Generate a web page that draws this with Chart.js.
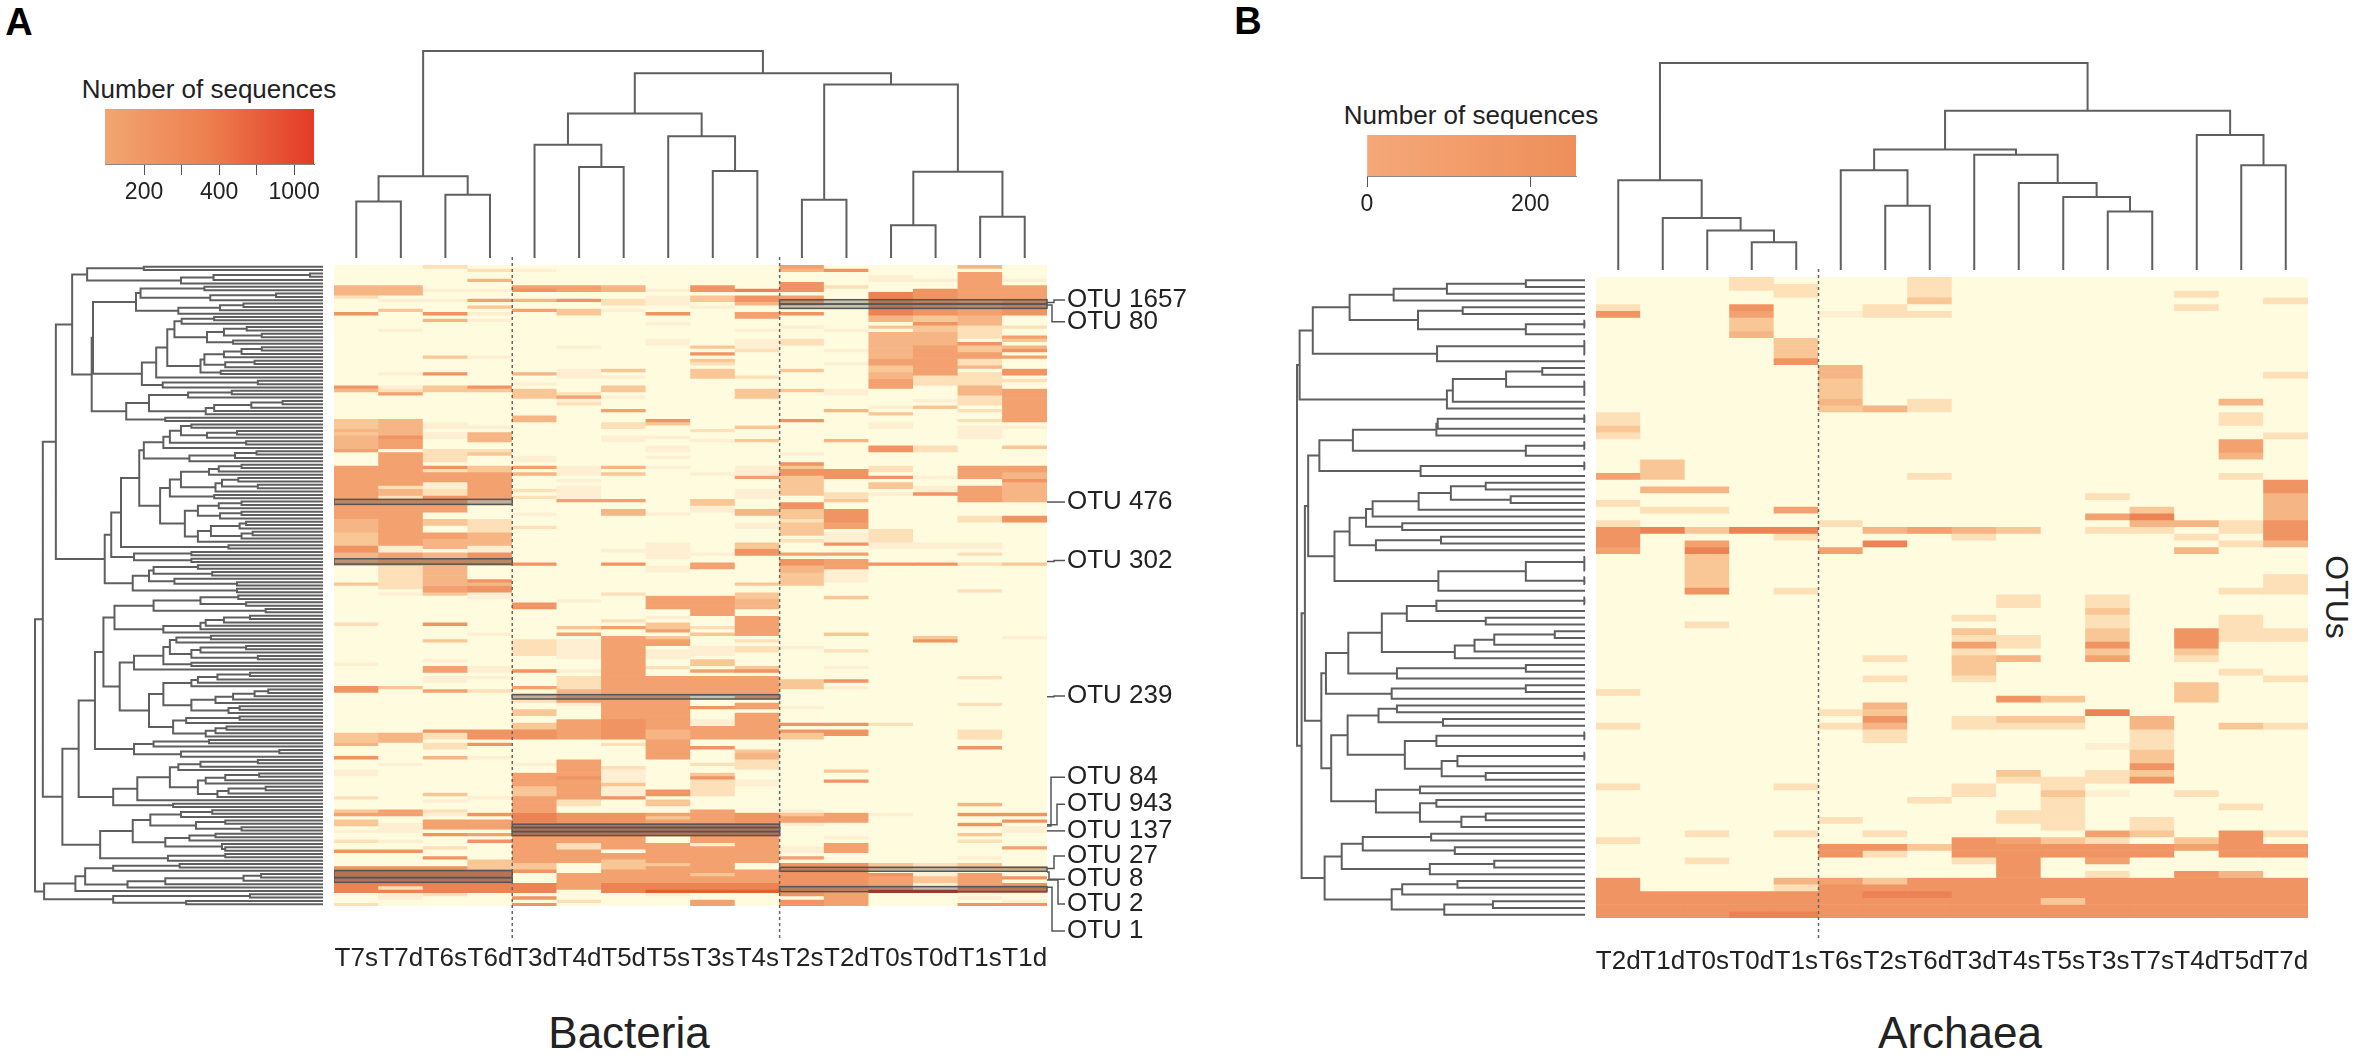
<!DOCTYPE html>
<html>
<head>
<meta charset="utf-8">
<title>Bacteria and Archaea heatmaps</title>
<script src="https://cdn.jsdelivr.net/npm/chart.js@4"></script>
<style>
  html, body { margin: 0; padding: 0; background: #fff; }
  #page { position: relative; width: 2362px; height: 1058px; overflow: hidden; font-family: "Liberation Sans", Arial, sans-serif; color: #222; }
  #page canvas { position: absolute; }
  .txt { position: absolute; white-space: nowrap; transform: translate(-50%, -50%); line-height: 1; }
  .panel { font-weight: bold; font-size: 38px; color: #000; }
  .name { font-size: 44px; }
  .key { font-size: 26px; }
</style>
</head>
<body>
<div id="page">
  <div class="txt panel" style="left:19px;top:22px">A</div>
  <div class="txt panel" style="left:1248px;top:21px">B</div>
  <div class="txt key" style="left:209px;top:89px">Number of sequences</div>
  <div class="txt key" style="left:1471px;top:115px">Number of sequences</div>
  <div class="txt name" style="left:629px;top:1033px">Bacteria</div>
  <div class="txt name" style="left:1960px;top:1033px">Archaea</div>
  <div class="txt" style="left:2337px;top:597px;font-size:32px;transform:translate(-50%,-50%) rotate(90deg)">OTUs</div>
</div>
<script>
// colour classes, 0 = no sequences
var levelColors = ["#FFFBDF", "#FEEFD3", "#FDDFB8", "#F9C796", "#F6B584", "#F2A16F", "#EF9462", "#EC8354", "#E25F33", "#C4281C"];

// ---- Bacteria ----
var bacSamples = ["T7s","T7d","T6s","T6d","T3d","T4d","T5d","T5s","T3s","T4s","T2s","T2d","T0s","T0d","T1s","T1d"];
var bacRowCount = 192;

// one list per sample: [first row, last row, colour class], later runs win
var bacT7s = [[6,8,4],[9,9,2],[14,14,6],[36,36,6],[37,37,4],[46,48,3],[49,54,4],[50,50,3],[55,55,5],[60,69,5],[70,71,5],[72,79,5],[76,79,4],[80,83,3],[84,85,6],[86,88,4],[89,89,5],[95,95,3],[107,107,2],[119,119,1],[126,127,6],[140,142,3],[143,143,4],[147,147,6],[151,152,1],[159,159,2],[163,163,3],[164,164,5],[166,167,3],[169,169,1],[172,172,2],[175,175,6],[180,180,6],[181,184,7],[185,187,7],[191,191,2]];
var bacT7d = [[6,8,4],[10,10,1],[13,13,3],[19,19,1],[32,32,1],[36,36,1],[37,37,2],[38,38,5],[46,49,4],[50,50,4],[51,51,6],[52,54,5],[56,65,5],[66,66,2],[67,68,4],[69,70,2],[70,71,5],[72,84,5],[84,86,1],[86,88,5],[89,89,5],[90,96,2],[98,98,1],[126,126,3],[140,142,4],[149,149,1],[163,164,5],[167,169,1],[172,172,1],[175,175,6],[180,180,6],[181,185,7],[186,186,2],[187,187,7],[188,189,1]];
var bacT6s = [[0,0,2],[7,7,1],[10,10,1],[14,14,6],[16,16,4],[27,27,3],[32,32,6],[36,37,3],[47,48,1],[50,51,1],[55,58,2],[60,60,6],[61,61,2],[62,64,5],[65,66,1],[67,68,2],[69,70,6],[70,73,5],[76,77,3],[80,81,5],[82,84,4],[86,87,4],[88,89,5],[90,97,4],[96,97,5],[98,98,3],[107,107,6],[112,112,3],[118,118,1],[120,121,5],[123,124,1],[127,127,5],[139,139,6],[140,141,2],[143,144,2],[147,147,4],[158,158,3],[160,160,1],[163,163,2],[164,164,1],[166,168,5],[170,170,6],[174,174,2],[177,177,6],[180,180,6],[181,184,7],[185,187,7],[188,188,2]];
var bacT6d = [[1,1,2],[4,4,4],[7,7,1],[10,10,5],[12,12,3],[14,14,1],[16,16,1],[27,27,1],[36,36,6],[37,37,3],[48,48,1],[50,52,4],[55,56,2],[56,56,3],[60,61,3],[62,69,5],[70,71,2],[76,79,2],[80,83,4],[84,86,1],[86,87,6],[88,89,5],[94,96,6],[95,95,4],[96,97,6],[98,99,1],[110,110,1],[120,121,1],[123,123,1],[127,127,2],[139,141,6],[143,143,6],[147,147,1],[159,159,1],[164,164,6],[166,168,5],[170,170,5],[172,172,6],[178,180,3],[181,184,7],[185,187,7]];
var bacT3d = [[1,1,1],[6,6,5],[7,7,6],[10,10,4],[13,13,5],[32,32,4],[35,35,1],[37,39,3],[45,46,4],[57,58,1],[60,60,5],[62,62,4],[67,67,2],[69,69,2],[74,74,1],[78,78,2],[89,89,6],[101,102,6],[112,116,2],[121,121,6],[126,126,5],[128,130,2],[133,134,3],[137,138,3],[139,141,6],[149,149,1],[152,161,5],[156,158,3],[162,163,5],[164,167,7],[167,170,7],[171,178,5],[179,180,3],[181,181,6],[185,187,7],[189,189,6],[191,191,6]];
var bacT4d = [[6,7,5],[10,10,6],[13,14,3],[24,24,1],[31,33,1],[38,38,2],[39,39,5],[40,40,1],[41,41,2],[60,62,1],[64,64,1],[66,69,1],[70,70,5],[100,100,1],[108,108,3],[110,110,5],[112,117,1],[121,121,1],[123,126,2],[127,128,4],[129,130,5],[131,131,1],[136,141,5],[148,155,5],[153,153,6],[156,159,5],[160,161,2],[164,166,6],[167,170,7],[171,172,5],[173,174,2],[175,178,5],[182,186,5],[190,190,2]];
var bacT5d = [[6,7,4],[10,11,2],[13,13,1],[31,31,3],[33,33,1],[36,37,3],[39,39,1],[43,43,5],[47,48,2],[51,52,1],[60,60,4],[62,62,3],[70,70,5],[73,74,4],[85,85,1],[89,89,6],[98,98,2],[106,106,2],[108,108,5],[111,128,5],[129,135,5],[136,141,6],[143,143,2],[150,150,2],[151,151,1],[152,154,1],[155,155,3],[156,158,1],[159,159,6],[164,166,6],[167,170,7],[171,174,5],[176,177,5],[178,180,3],[181,184,5],[185,187,7]];
var bacT5s = [[7,7,1],[9,11,1],[14,14,6],[17,17,1],[22,23,1],[46,46,6],[47,47,3],[51,51,1],[54,55,1],[57,57,1],[60,60,1],[74,74,1],[83,84,1],[85,87,1],[90,91,1],[99,102,5],[105,105,1],[107,108,3],[109,109,5],[111,111,3],[112,113,5],[115,117,1],[120,120,2],[123,128,5],[129,138,5],[139,141,4],[142,147,5],[157,158,6],[160,161,3],[164,170,5],[165,165,3],[167,170,7],[173,178,5],[179,180,3],[180,184,5],[185,186,7],[187,187,8],[188,188,1]];
var bacT3s = [[6,7,6],[9,10,3],[12,12,1],[24,24,3],[26,26,6],[28,28,3],[29,29,2],[31,33,3],[49,49,2],[52,52,1],[62,62,1],[70,71,3],[72,73,1],[86,86,1],[89,90,5],[99,104,5],[108,108,2],[110,110,3],[114,116,1],[118,119,3],[121,121,5],[123,128,5],[132,132,6],[136,137,1],[138,141,5],[144,144,6],[149,149,2],[152,152,3],[153,153,6],[154,158,2],[163,166,5],[167,170,7],[171,172,5],[173,173,1],[174,175,5],[176,178,5],[179,184,5],[182,182,3],[185,186,7],[187,187,8],[190,191,5]];
var bacT4s = [[7,7,7],[9,10,6],[11,11,4],[14,15,5],[19,19,1],[22,24,1],[25,25,2],[33,33,2],[37,39,3],[48,48,3],[52,52,3],[60,62,1],[63,63,5],[67,69,1],[73,74,4],[77,78,1],[83,84,3],[85,86,6],[95,95,3],[98,99,3],[100,102,4],[105,110,5],[112,112,2],[114,115,2],[120,120,3],[121,121,6],[123,129,5],[131,132,5],[134,138,5],[139,141,5],[145,145,3],[146,147,4],[148,150,2],[154,155,1],[164,164,6],[165,166,6],[167,170,7],[171,172,5],[173,175,5],[176,178,5],[181,184,5],[185,186,7],[187,187,8]];
var bacT2s = [[0,0,5],[1,1,4],[5,7,6],[9,10,5],[11,11,4],[14,14,6],[18,18,1],[22,23,2],[31,31,3],[37,37,3],[46,46,6],[56,56,1],[59,59,6],[60,60,3],[61,62,6],[63,67,3],[68,68,3],[71,72,6],[73,80,3],[76,76,2],[82,82,2],[86,86,5],[88,90,6],[90,91,4],[92,94,3],[95,95,3],[114,114,1],[124,126,3],[132,132,1],[137,137,6],[139,141,6],[140,141,3],[163,163,1],[164,164,3],[165,166,5],[167,167,1],[174,175,1],[177,177,5],[179,180,6],[180,187,6],[188,188,6],[190,191,6]];
var bacT2d = [[1,1,6],[6,6,2],[19,19,1],[25,25,1],[29,29,1],[37,38,1],[43,43,4],[52,52,4],[61,63,6],[68,69,2],[70,70,3],[73,74,6],[75,76,6],[77,78,5],[80,82,1],[83,83,6],[86,86,5],[88,90,5],[91,94,1],[99,99,3],[110,110,3],[115,115,2],[120,120,1],[124,124,6],[126,126,1],[137,137,6],[139,140,6],[151,151,3],[154,154,6],[164,166,5],[171,171,1],[173,175,5],[179,187,6],[187,191,5]];
var bacT0s = [[3,4,1],[8,14,7],[15,16,4],[18,18,3],[20,27,4],[28,29,5],[30,31,3],[32,33,4],[34,36,5],[42,42,1],[44,44,3],[47,48,1],[54,55,6],[60,60,2],[61,61,2],[63,63,6],[65,66,3],[68,68,1],[79,84,2],[83,84,1],[89,89,6],[137,137,2],[164,164,1],[179,180,3],[182,182,6],[183,186,5],[187,187,9]];
var bacT0d = [[4,4,1],[7,14,6],[15,16,3],[17,17,6],[18,19,3],[20,23,4],[24,32,5],[33,35,2],[40,40,1],[42,42,3],[54,55,2],[63,63,1],[66,67,1],[68,68,6],[83,84,1],[89,89,6],[111,111,3],[112,112,6],[179,180,2],[182,183,1],[183,184,3],[185,186,1],[187,187,9]];
var bacT1s = [[0,0,4],[2,14,5],[15,17,4],[18,21,2],[23,23,6],[24,25,3],[26,27,5],[28,29,2],[30,30,4],[32,35,2],[36,38,4],[39,41,2],[43,43,2],[46,46,2],[48,51,1],[60,63,5],[66,67,5],[68,70,5],[75,76,2],[83,84,1],[86,86,2],[89,89,2],[97,97,2],[123,123,2],[131,131,2],[139,141,2],[144,144,6],[161,161,4],[164,164,6],[167,167,6],[170,170,3],[172,172,2],[177,177,1],[179,180,3],[182,186,5],[186,187,7],[189,189,1],[191,191,6]];
var bacT1d = [[4,4,1],[6,14,5],[10,14,6],[18,18,2],[21,21,5],[22,22,3],[24,24,4],[25,25,6],[27,27,5],[31,32,6],[34,34,2],[37,46,5],[48,48,1],[54,54,3],[60,61,5],[62,64,4],[64,65,6],[65,70,4],[75,76,6],[89,89,3],[111,111,1],[164,164,6],[166,166,6],[168,169,1],[174,174,5],[180,180,3],[183,183,6],[185,185,6],[186,187,7],[190,190,1],[191,191,6]];
var bacColumns = [bacT7s,bacT7d,bacT6s,bacT6d,bacT3d,bacT4d,bacT5d,bacT5s,bacT3s,bacT4s,bacT2s,bacT2d,bacT0s,bacT0d,bacT1s,bacT1d];

// depth of the join between neighbouring leaves, small = near the root
var bacTopDepth = [595,520,575,150,427,493,335,402,505,216,590,249,665,507,640];
var bacLeftDepth = [175,88,430,282,232,65,268,170,378,277,163,328,292,228,97,283,233,222,333,298,356,272,312,211,356,325,298,268,345,300,262,293,194,172,350,204,95,310,243,183,388,340,283,270,148,208,40,248,232,318,272,215,332,205,175,348,315,245,168,325,290,275,232,320,295,350,285,215,283,200,325,290,258,325,292,238,332,322,278,342,325,258,140,305,125,248,160,248,115,258,190,280,183,222,318,158,318,20,320,262,332,190,362,130,338,298,270,262,205,113,278,225,215,332,262,248,350,205,248,160,138,338,288,258,248,205,366,345,312,285,248,322,305,183,322,240,220,302,285,270,100,275,190,160,383,232,75,350,262,228,215,352,300,270,258,362,305,288,165,128,220,50,280,232,185,300,255,325,158,285,245,208,295,300,108,300,212,8,230,128,85,355,328,208,150,70,22,338,128,240];

// highlighted OTU rows: first row, last edge, first sample, last sample
var bacBoxRows = [[10.4,11.7,10,15],[11.7,13,10,15],[70.2,71.7,0,3],[88,89.6,0,3],[128.7,130,4,9],[167.5,168.5,4,9],[168.5,169.7,4,9],[169.7,170.9,4,9],[180.4,181.6,10,15],[181.4,183.5,0,3],[183.5,184.9,0,3],[186.2,187.7,10,15]];
var otuNames = ["OTU 1657","OTU 80","OTU 476","OTU 302","OTU 239","OTU 84","OTU 943","OTU 137","OTU 27","OTU 8","OTU 2","OTU 1"];
var otuFromRows = [11.2,12,71,88.8,129.3,168,167.7,169.5,180.8,181.8,184.2,186.4];
var otuTextRows = [10.5,17,71,88.5,129.1,153.4,161.5,169.5,177,184,191.4,199.5];
var bacKeyTicks = [0,1,2,3,4];
var bacKeyLabels = ["200","","400","","1000"];

// ---- Archaea ----
var arcSamples = ["T2d","T1d","T0s","T0d","T1s","T6s","T2s","T6d","T3d","T4s","T5s","T3s","T7s","T4d","T5d","T7d"];
var arcRowCount = 95;

var arcT2d = [[4,4,2],[5,5,6],[20,21,2],[22,22,3],[23,23,2],[29,29,5],[33,33,2],[36,36,2],[37,39,6],[40,40,5],[61,61,2],[66,66,2],[75,75,2],[83,83,2],[89,94,6]];
var arcT1d = [[27,29,3],[31,31,4],[34,34,2],[37,37,7],[91,94,6]];
var arcT0s = [[31,31,4],[34,34,2],[37,37,3],[39,39,5],[40,40,7],[41,45,3],[46,46,6],[51,51,2],[82,82,2],[86,86,2],[91,94,6]];
var arcT0d = [[0,1,2],[4,4,6],[5,5,5],[6,7,3],[8,8,4],[37,37,7],[91,94,6],[94,94,7]];
var arcT1s = [[1,2,2],[9,11,3],[12,12,6],[34,34,5],[37,37,7],[38,38,2],[46,46,2],[75,75,2],[82,82,2],[89,89,4],[90,90,2],[91,94,6],[94,94,7]];
var arcT6s = [[5,5,1],[13,14,4],[15,17,3],[18,18,4],[19,19,3],[36,36,2],[40,40,5],[64,64,2],[66,66,2],[80,80,2],[84,85,6],[89,89,5],[90,94,6]];
var arcT2s = [[4,5,2],[19,19,4],[37,37,4],[39,39,7],[56,56,2],[59,59,2],[63,63,4],[64,64,3],[65,65,6],[66,66,4],[67,68,2],[82,82,2],[84,84,6],[85,85,2],[89,89,3],[90,94,6],[91,91,7]];
var arcT6d = [[0,2,2],[3,3,3],[5,5,2],[18,19,2],[29,29,2],[37,37,5],[77,77,2],[84,84,3],[89,94,6],[91,91,7]];
var arcT3d = [[37,37,4],[38,38,2],[50,50,2],[52,52,3],[53,53,2],[54,54,5],[55,55,2],[56,58,3],[59,59,2],[65,66,2],[75,76,2],[83,85,6],[86,86,2],[89,94,6]];
var arcT4s = [[37,37,3],[47,48,2],[53,54,2],[56,56,4],[62,62,6],[65,65,3],[66,66,2],[73,73,3],[74,74,2],[79,80,2],[83,83,5],[84,94,6]];
var arcT5s = [[62,62,3],[65,65,3],[66,66,2],[74,75,2],[76,76,3],[77,81,2],[83,83,3],[84,85,6],[89,94,6],[92,92,3]];
var arcT3s = [[32,32,2],[35,35,5],[37,37,2],[47,51,2],[49,49,3],[52,53,3],[54,54,6],[55,55,3],[56,56,5],[64,64,7],[69,69,1],[73,74,2],[76,76,1],[82,82,5],[83,83,2],[84,85,6],[86,86,5],[88,88,2],[89,94,6]];
var arcT7s = [[34,34,3],[35,35,7],[36,36,4],[37,37,2],[65,66,4],[67,69,2],[70,71,3],[72,72,6],[73,73,3],[74,74,6],[80,81,2],[82,82,3],[84,85,6],[89,94,6]];
var arcT4d = [[2,2,2],[4,4,2],[36,36,4],[38,38,2],[40,40,4],[52,54,6],[55,55,3],[56,56,2],[60,62,3],[76,76,2],[83,83,3],[84,84,5],[88,89,6],[90,94,6]];
var arcT5d = [[18,18,4],[20,21,2],[24,25,5],[26,26,4],[29,29,2],[36,37,2],[39,39,2],[46,46,2],[50,53,2],[58,58,2],[66,66,3],[78,78,2],[82,85,6],[88,88,4],[89,94,6]];
var arcT7d = [[3,3,2],[14,14,2],[23,23,2],[30,31,6],[32,35,4],[36,38,6],[39,39,4],[44,46,2],[52,53,2],[59,59,2],[66,66,2],[82,82,2],[84,85,6],[89,94,6]];
var arcColumns = [arcT2d,arcT1d,arcT0s,arcT0d,arcT1s,arcT6s,arcT2s,arcT6d,arcT3d,arcT4s,arcT5s,arcT3s,arcT7s,arcT4d,arcT5d,arcT7d];

var arcTopDepth = [532,643,680,715,185,502,607,441,456,540,581,624,326,398,487];
var arcLeftDepth = [366,246,165,98,270,202,455,366,42,455,455,231,22,391,336,455,455,255,246,18,455,232,230,103,455,366,52,455,206,35,305,252,343,203,133,123,178,98,237,138,75,455,455,366,455,233,30,455,230,185,305,147,410,318,288,258,96,366,170,62,366,162,55,170,142,240,95,455,230,182,455,262,238,305,70,205,138,230,205,305,268,25,222,118,258,86,318,220,60,262,178,162,316,242];
var arcKeyTicks = [0,200];
var arcKeyLabels = {0:"0",200:"200"};

Chart.defaults.animation = false;
Chart.defaults.responsive = false;
Chart.defaults.devicePixelRatio = 1;
Chart.defaults.font.family = '"Liberation Sans", Arial, sans-serif';
Chart.defaults.color = "#222";
Chart.defaults.plugins.legend.display = false;
Chart.defaults.plugins.tooltip.enabled = false;

function addCanvas(left, top, w, h) {
    var c = document.createElement("canvas");
    c.width = w;
    c.height = h;
    c.style.left = left + "px";
    c.style.top = top + "px";
    c.style.width = w + "px";
    c.style.height = h + "px";
    document.getElementById("page").appendChild(c);
    return c;
}

function fixAxis(height) {
    return function(scale) {
        scale.height = height;
        scale.paddingLeft = 0;
        scale.paddingRight = 0;
    };
}

// turn neighbour join depths into elbow segments, split at the shallowest join
function dendroPoints(depths, leafDepth, horizontal) {
    var pts = [];
    function pt(depth, pos) {
        return horizontal ? {x: depth, y: pos} : {x: pos, y: depth};
    }
    function build(lo, hi) {
        if (lo === hi) return {pos: lo + 0.5, depth: leafDepth};
        var m = lo;
        for (var i = lo; i < hi; i++) {
            if (depths[i] < depths[m]) m = i;
        }
        var a = build(lo, m);
        var b = build(m + 1, hi);
        var d = depths[m];
        pts.push(pt(a.depth, a.pos), pt(d, a.pos), pt(d, b.pos), pt(b.depth, b.pos), {x: NaN, y: NaN});
        return {pos: (a.pos + b.pos) / 2, depth: d};
    }
    build(0, depths.length);
    return pts;
}

function drawDendro(canvas, depths, leafDepth, rootDepth, horizontal) {
    var n = depths.length + 1;
    var posAxis = {type: "linear", min: 0, max: n, display: false, reverse: horizontal};
    var depthAxis = {type: "linear", min: rootDepth, max: leafDepth, display: false, reverse: !horizontal};
    new Chart(canvas, {
        type: "scatter",
        data: {datasets: [{
            data: dendroPoints(depths, leafDepth, horizontal),
            showLine: true,
            spanGaps: false,
            pointRadius: 0,
            borderColor: "#5f5f5f",
            borderWidth: 2,
            clip: false
        }]},
        options: {
            layout: {padding: horizontal ? 2 : {top: 2, bottom: 0}},
            scales: horizontal ? {x: depthAxis, y: posAxis} : {x: posAxis, y: depthAxis}
        }
    });
}

function drawHeat(canvas, samples, rowCount, columns, axisHeight, labelPad, rightPad, extras) {
    var grid = [];
    for (var r = 0; r < rowCount; r++) {
        grid.push(samples.map(function() { return 0; }));
    }
    columns.forEach(function(runs, c) {
        runs.forEach(function(run) {
            for (var r = run[0]; r <= run[1] && r < rowCount; r++) grid[r][c] = run[2];
        });
    });
    var datasets = grid.map(function(row) {
        return {
            data: row.map(function() { return 1; }),
            backgroundColor: row.map(function(l) { return levelColors[l]; }),
            borderWidth: 0,
            barPercentage: 1,
            categoryPercentage: 1
        };
    });
    new Chart(canvas, {
        type: "bar",
        data: {labels: samples, datasets: datasets},
        options: {
            layout: {padding: {top: 8, right: rightPad}},
            scales: {
                x: {
                    stacked: true,
                    grid: {display: false},
                    border: {display: false},
                    afterFit: fixAxis(axisHeight),
                    ticks: {font: {size: 26}, color: "#222", padding: labelPad, maxRotation: 0, autoSkip: false}
                },
                y: {stacked: true, min: 0, max: rowCount, reverse: true, display: false}
            }
        },
        plugins: [extras]
    });
}

function drawKey(canvas, range, stops, tickValues, tickText) {
    new Chart(canvas, {
        type: "bar",
        data: {labels: [""], datasets: [{
            data: [range],
            barPercentage: 1,
            categoryPercentage: 1,
            backgroundColor: function(ctx) {
                var area = ctx.chart.chartArea;
                if (!area) return stops[0];
                var g = ctx.chart.ctx.createLinearGradient(area.left, 0, area.right, 0);
                stops.forEach(function(s, i) { g.addColorStop(i / (stops.length - 1), s); });
                return g;
            }
        }]},
        options: {
            indexAxis: "y",
            layout: {padding: {left: 30, right: 30}},
            scales: {
                y: {display: false},
                x: {
                    min: range[0],
                    max: range[1],
                    afterBuildTicks: function(scale) {
                        scale.ticks = tickValues.map(function(v) { return {value: v}; });
                    },
                    afterFit: fixAxis(50),
                    grid: {drawOnChartArea: false, drawTicks: true, tickLength: 11, color: "#555"},
                    border: {color: "#888"},
                    ticks: {
                        font: {size: 23},
                        color: "#222",
                        padding: 4,
                        maxRotation: 0,
                        autoSkip: false,
                        callback: function(v) { return tickText[v]; }
                    }
                }
            }
        }
    });
}

// dotted group lines plus OTU boxes and leaders, all placed by the heatmap scales
function heatExtras(dashCols, dashBottom, boxes, names, fromRows, textRows, elbows) {
    return {
        id: "heatExtras",
        afterDraw: function(chart) {
            var ctx = chart.ctx;
            var y = chart.scales.y;
            var colW = chart.chartArea.width / chart.data.labels.length;
            var left = chart.chartArea.left;
            ctx.save();
            (boxes || []).forEach(function(b) {
                var x0 = left + b[2] * colW;
                var x1 = left + (b[3] + 1) * colW;
                var y0 = y.getPixelForValue(b[0]);
                var y1 = y.getPixelForValue(b[1]);
                ctx.fillStyle = "rgba(85,85,85,0.35)";
                ctx.fillRect(x0, y0, x1 - x0, y1 - y0);
                ctx.strokeStyle = "#555";
                ctx.lineWidth = 1.5;
                ctx.strokeRect(x0, y0, x1 - x0, y1 - y0);
            });
            ctx.strokeStyle = "#666";
            ctx.lineWidth = 1.5;
            ctx.setLineDash([3, 3]);
            dashCols.forEach(function(c) {
                var px = left + c * colW;
                ctx.beginPath();
                ctx.moveTo(px, 0);
                ctx.lineTo(px, chart.chartArea.bottom + dashBottom);
                ctx.stroke();
            });
            ctx.setLineDash([]);
            if (names) {
                var right = chart.chartArea.right;
                ctx.strokeStyle = "#555";
                ctx.fillStyle = "#222";
                ctx.font = '26px "Liberation Sans", Arial, sans-serif';
                ctx.textBaseline = "middle";
                names.forEach(function(name, i) {
                    var yFrom = y.getPixelForValue(fromRows[i]);
                    var yText = y.getPixelForValue(textRows[i]);
                    ctx.beginPath();
                    ctx.moveTo(right, yFrom);
                    ctx.lineTo(right + elbows[i], yFrom);
                    ctx.lineTo(right + elbows[i], yText);
                    ctx.lineTo(right + 18, yText);
                    ctx.stroke();
                    ctx.fillText(name, right + 20, yText);
                });
            }
            ctx.restore();
        }
    };
}

// panel A
drawHeat(addCanvas(334, 257, 713 + 150, 8 + 641 + 69), bacSamples, bacRowCount, bacColumns, 69, 29, 150,
    heatExtras([4, 10], 35, bacBoxRows, otuNames, otuFromRows, otuTextRows, [7,5,7,7,7,4,10,8,7,2,11,5]));
drawDendro(addCanvas(334, 49, 713, 209), bacTopDepth, 762, 150, false);
drawDendro(addCanvas(33, 263, 292, 645), bacLeftDepth, 450, 8, true);
drawKey(addCanvas(75, 109, 269, 55 + 50), [-1.04, 4.53], ["#F2A672", "#EC7F4E", "#E33A26"], bacKeyTicks, bacKeyLabels);

// panel B
drawHeat(addCanvas(1596, 269, 712, 8 + 641 + 60), arcSamples, arcRowCount, arcColumns, 60, 20, 0,
    heatExtras([5], 23));
drawDendro(addCanvas(1596, 61, 712, 209), arcTopDepth, 797, 185, false);
drawDendro(addCanvas(1295, 275, 292, 645), arcLeftDepth, 456, 18, true);
drawKey(addCanvas(1337, 135, 269, 41 + 50), [0, 256], ["#F5A878", "#EE8F5A"], arcKeyTicks, arcKeyLabels);
</script>
</body>
</html>
